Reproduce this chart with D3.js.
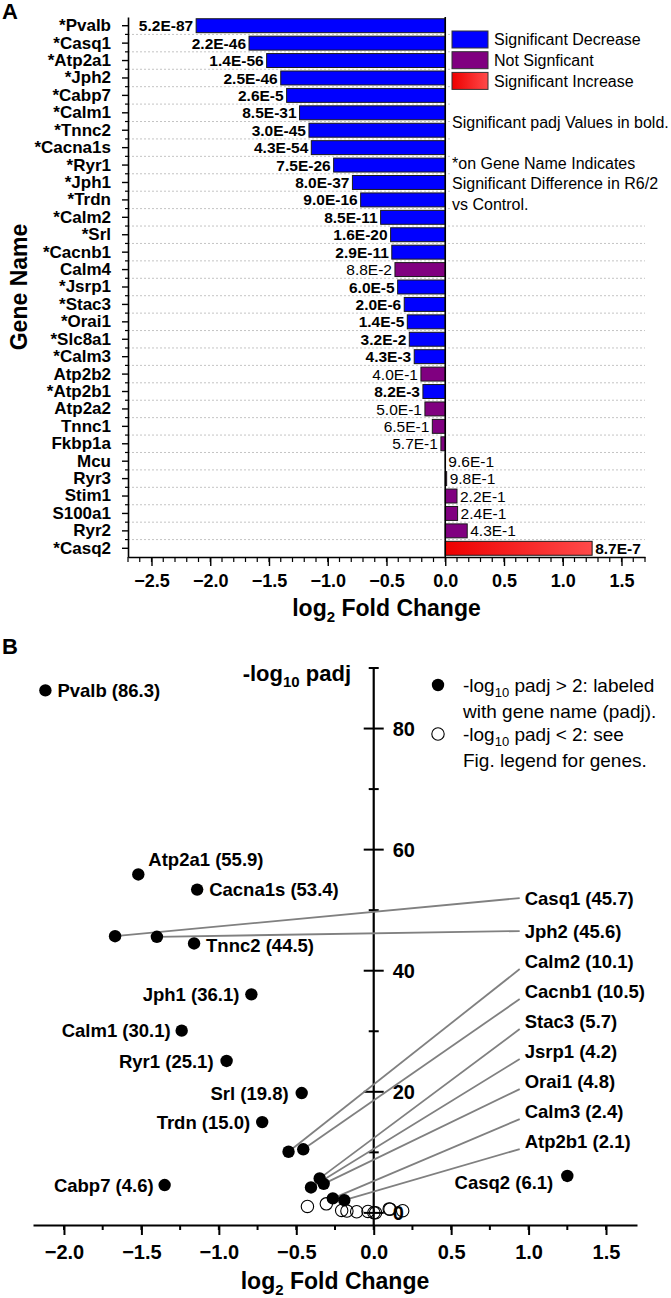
<!DOCTYPE html>
<html>
<head>
<meta charset="utf-8">
<script src="https://cdn.jsdelivr.net/npm/d3@7"></script>
<style>
  body { margin: 0; background: #fff; }
  svg { display: block; font-family: "Liberation Sans", Arial, sans-serif; }
</style>
</head>
<body>
<svg width="671" height="1298"></svg>
<script>
// gene list, top to bottom as in panel A
const genes = ['Pvalb', 'Casq1', 'Atp2a1', 'Jph2', 'Cabp7', 'Calm1', 'Tnnc2', 'Cacna1s', 'Ryr1', 'Jph1',
  'Trdn', 'Calm2', 'Srl', 'Cacnb1', 'Calm4', 'Jsrp1', 'Stac3', 'Orai1', 'Slc8a1', 'Calm3',
  'Atp2b2', 'Atp2b1', 'Atp2a2', 'Tnnc1', 'Fkbp1a', 'Mcu', 'Ryr3', 'Stim1', 'S100a1', 'Ryr2', 'Casq2'];
const log2FC = [-2.12, -1.67, -1.52, -1.40, -1.35, -1.24, -1.16, -1.14, -0.95, -0.79,
  -0.72, -0.55, -0.465, -0.455, -0.428, -0.405, -0.349, -0.323, -0.306, -0.264,
  -0.207, -0.19, -0.173, -0.11, -0.037, 0.001, 0.012, 0.10, 0.105, 0.187, 1.25];
const padjText = ['5.2E-87', '2.2E-46', '1.4E-56', '2.5E-46', '2.6E-5', '8.5E-31', '3.0E-45', '4.3E-54', '7.5E-26', '8.0E-37',
  '9.0E-16', '8.5E-11', '1.6E-20', '2.9E-11', '8.8E-2', '6.0E-5', '2.0E-6', '1.4E-5', '3.2E-2', '4.3E-3',
  '4.0E-1', '8.2E-3', '5.0E-1', '6.5E-1', '5.7E-1', '9.6E-1', '9.8E-1', '2.2E-1', '2.4E-1', '4.3E-1', '8.7E-7'];
const negLog10Padj = [86.3, 45.7, 55.9, 45.6, 4.6, 30.1, 44.5, 53.4, 25.1, 36.1,
  15.0, 10.1, 19.8, 10.5, 1.06, 4.2, 5.7, 4.8, 1.49, 2.4,
  0.40, 2.1, 0.30, 0.19, 0.24, 0.02, 0.01, 0.66, 0.62, 0.37, 6.1];

const legendA = ['Significant Decrease', 'Not Signficant', 'Significant Increase'];
const notesA = ['Significant padj Values in bold.', '*on Gene Name Indicates', 'Significant Difference in R6/2', 'vs Control.'];
const ticksAx = [-2.5, -2.0, -1.5, -1.0, -0.5, 0.0, 0.5, 1.0, 1.5];
const ticksBx = [-2.0, -1.5, -1.0, -0.5, 0.0, 0.5, 1.0, 1.5];
const ticksBy = [0, 20, 40, 60, 80];
const minorBy = [10, 30, 50, 70, 90];
// genes whose label in B sits in the right-hand column, connected with a line
const calloutGenes = ['Casq1', 'Jph2', 'Calm2', 'Cacnb1', 'Stac3', 'Jsrp1', 'Orai1', 'Calm3', 'Atp2b1'];

const data = genes.map((g, i) => ({
  gene: g, fc: log2FC[i], padjText: padjText[i], padj: +padjText[i], nl: negLog10Padj[i]
}));

const BLUE = '#0000ff', PURPLE = '#800080';
const fmt = d3.format('.1f');
const svg = d3.select('svg');

const defs = svg.append('defs');
const grad = defs.append('linearGradient').attr('id', 'redGrad');
grad.append('stop').attr('offset', '0%').attr('stop-color', '#ee0000');
grad.append('stop').attr('offset', '100%').attr('stop-color', '#ff4a4a');

const barColor = d => d.padj >= 0.05 ? PURPLE : (d.fc < 0 ? BLUE : 'url(#redGrad)');

// ---------------- panel A ----------------
const mA = {left: 128, right: 645, top: 17, bottom: 557};
const xA = d3.scaleLinear().domain([-2.7, 1.7]).range([mA.left, mA.right]);
const yA = d3.scaleBand().domain(genes).range([mA.top, mA.bottom]).paddingInner(0.2).paddingOuter(0.1);
const stepA = yA.step();

const gA = svg.append('g');

// dotted gridlines on row boundaries
gA.append('g').selectAll('line').data(genes.slice(1)).join('line')
  .attr('x1', mA.left).attr('x2', mA.right)
  .attr('y1', d => yA(d) - stepA * 0.1).attr('y2', d => yA(d) - stepA * 0.1)
  .attr('stroke', '#c4c4c4').attr('stroke-width', 1).attr('stroke-dasharray', '2,2');

gA.append('g').selectAll('rect').data(data).join('rect')
  .attr('x', d => xA(Math.min(0, d.fc)))
  .attr('y', d => yA(d.gene))
  .attr('width', d => Math.abs(xA(d.fc) - xA(0)))
  .attr('height', yA.bandwidth())
  .attr('fill', barColor)
  .attr('stroke', '#1a1a1a').attr('stroke-width', 1);

gA.append('g').selectAll('text').data(data).join('text')
  .attr('x', d => d.fc < 0 ? xA(d.fc) - 3 : xA(d.fc) + 3)
  .attr('y', d => yA(d.gene) + yA.bandwidth() / 2)
  .attr('dy', '0.36em')
  .attr('text-anchor', d => d.fc < 0 ? 'end' : 'start')
  .attr('font-size', 15.5)
  .attr('font-weight', d => d.padj < 0.05 ? 'bold' : 'normal')
  .attr('fill', '#000')
  .text(d => d.padjText);

// zero line
gA.append('line')
  .attr('x1', xA(0)).attr('x2', xA(0)).attr('y1', mA.top).attr('y2', mA.bottom)
  .attr('stroke', '#000').attr('stroke-width', 1.6);

// legend + notes on white
const lgA = svg.append('g');
lgA.append('rect').attr('x', 451).attr('y', 20).attr('width', 220).attr('height', 198).attr('fill', '#fff');
const swatchFill = [BLUE, PURPLE, 'url(#redGrad)'];
legendA.forEach((t, i) => {
  const y = 31 + i * 20.7;
  lgA.append('rect').attr('x', 452).attr('y', y).attr('width', 36).attr('height', 17)
    .attr('fill', swatchFill[i]).attr('stroke', '#333').attr('stroke-width', 1);
  lgA.append('text').attr('x', 494).attr('y', y + 8.5).attr('dy', '0.36em')
    .attr('font-size', 16).text(t);
});
const noteY = [122, 163, 183.5, 204];
notesA.forEach((t, i) => {
  lgA.append('text').attr('x', 452).attr('y', noteY[i]).attr('dy', '0.36em')
    .attr('font-size', 16).text(t);
});

// y axis A
const yAxisA = gA.append('g').attr('transform', `translate(${mA.left},0)`)
  .call(d3.axisLeft(yA).tickSize(6).tickSizeOuter(0).tickPadding(11)
    .tickFormat(g => (data.find(d => d.gene === g).padj < 0.05 ? '*' : '') + g));
yAxisA.select('.domain').attr('stroke-width', 1.6);
yAxisA.selectAll('.tick line').attr('stroke-width', 1.4);
yAxisA.selectAll('.tick text').attr('font-size', 17).attr('font-weight', 'bold')
  .attr('font-family', '"Liberation Sans", Arial, sans-serif').attr('fill', '#000');
gA.append('g').selectAll('line').data(genes.slice(1)).join('line')
  .attr('x1', mA.left - 3).attr('x2', mA.left)
  .attr('y1', d => yA(d) - stepA * 0.1).attr('y2', d => yA(d) - stepA * 0.1)
  .attr('stroke', '#000').attr('stroke-width', 1.2);

// x axis A
const xAxisA = gA.append('g').attr('transform', `translate(0,${mA.bottom})`)
  .call(d3.axisBottom(xA).tickValues(ticksAx).tickSize(9).tickSizeOuter(0).tickPadding(8).tickFormat(fmt));
xAxisA.select('.domain').attr('stroke-width', 1.6);
xAxisA.selectAll('.tick line').attr('stroke-width', 1.4);
xAxisA.selectAll('.tick text').attr('font-size', 18).attr('font-weight', 'bold')
  .attr('font-family', '"Liberation Sans", Arial, sans-serif').attr('fill', '#000');
gA.append('g').selectAll('line').data(d3.range(-27, 18).map(v => v / 10)).join('line')
  .attr('x1', d => xA(d)).attr('x2', d => xA(d))
  .attr('y1', mA.bottom).attr('y2', mA.bottom + 5)
  .attr('stroke', '#000').attr('stroke-width', 1.2);

const titleA = svg.append('text').attr('x', (mA.left + mA.right) / 2).attr('y', 616)
  .attr('text-anchor', 'middle').attr('font-size', 23).attr('font-weight', 'bold');
titleA.append('tspan').text('log');
titleA.append('tspan').text('2').attr('font-size', 15).attr('dy', 6);
titleA.append('tspan').text(' Fold Change').attr('dy', -6);

svg.append('text').attr('transform', `translate(27,${(mA.top + mA.bottom) / 2}) rotate(-90)`)
  .attr('text-anchor', 'middle').attr('font-size', 23).attr('font-weight', 'bold').text('Gene Name');

svg.append('text').attr('x', 2).attr('y', 19).attr('font-size', 22).attr('font-weight', 'bold').text('A');

// ---------------- panel B ----------------
const xB = d3.scaleLinear().domain([-2.2, 1.7]).range([33, 637]);
const yB = d3.scaleLinear().domain([-2, 90]).range([1225, 668]);
const gB = svg.append('g');

svg.append('text').attr('x', 2).attr('y', 654).attr('font-size', 22).attr('font-weight', 'bold').text('B');

// x axis B
const xAxisB = gB.append('g').attr('transform', `translate(0,${yB(-2)})`)
  .call(d3.axisBottom(xB).tickValues(ticksBx).tickSize(10).tickSizeOuter(0).tickPadding(10).tickFormat(fmt));
xAxisB.select('.domain').attr('stroke-width', 2.2);
xAxisB.selectAll('.tick line').attr('stroke-width', 2);
xAxisB.selectAll('.tick text').attr('font-size', 20).attr('font-weight', 'bold')
  .attr('font-family', '"Liberation Sans", Arial, sans-serif').attr('fill', '#000');
gB.append('g').selectAll('line').data(d3.range(-8, 7).map(v => v / 4)).join('line')
  .attr('x1', d => xB(d)).attr('x2', d => xB(d))
  .attr('y1', yB(-2)).attr('y2', yB(-2) + 5)
  .attr('stroke', '#000').attr('stroke-width', 2);

// y axis B (through x = 0, ticks crossing)
const yAxisB = gB.append('g').attr('transform', `translate(${xB(0)},0)`);
yAxisB.append('line').attr('y1', yB(-2)).attr('y2', yB(90))
  .attr('stroke', '#000').attr('stroke-width', 2.2);
yAxisB.selectAll('line.major').data(ticksBy).join('line').attr('class', 'major')
  .attr('x1', -10).attr('x2', 10).attr('y1', d => yB(d)).attr('y2', d => yB(d))
  .attr('stroke', '#000').attr('stroke-width', 2);
yAxisB.selectAll('line.minor').data(minorBy).join('line').attr('class', 'minor')
  .attr('x1', -5).attr('x2', 5).attr('y1', d => yB(d)).attr('y2', d => yB(d))
  .attr('stroke', '#000').attr('stroke-width', 2);
yAxisB.selectAll('text').data(ticksBy).join('text')
  .attr('x', 19).attr('y', d => yB(d)).attr('dy', '0.36em')
  .attr('font-size', 20).attr('font-weight', 'bold').text(d => d);

const titleB = svg.append('text').attr('x', 351).attr('y', 681)
  .attr('text-anchor', 'end').attr('font-size', 22).attr('font-weight', 'bold');
titleB.append('tspan').text('-log');
titleB.append('tspan').text('10').attr('font-size', 15).attr('dy', 6);
titleB.append('tspan').text(' padj').attr('dy', -6);

const titleBx = svg.append('text').attr('x', (xB.range()[0] + xB.range()[1]) / 2).attr('y', 1289)
  .attr('text-anchor', 'middle').attr('font-size', 23).attr('font-weight', 'bold');
titleBx.append('tspan').text('log');
titleBx.append('tspan').text('2').attr('font-size', 15).attr('dy', 6);
titleBx.append('tspan').text(' Fold Change').attr('dy', -6);

// labels beside the point: [anchor, dx, dy]
const nearLabel = {
  Pvalb: ['start', 12, 0], Atp2a1: ['start', 10, -15], Cacna1s: ['start', 12, 0], Tnnc2: ['start', 12, 2],
  Jph1: ['end', -12, 0], Calm1: ['end', -11, 0], Ryr1: ['end', -13, 0], Srl: ['end', -13, 0],
  Trdn: ['end', -12, 0], Cabp7: ['end', -11, 0], Casq2: ['end', -14, 6]
};
const byGene = new Map(data.map(d => [d.gene, d]));
const labelText = d => `${d.gene} (${fmt(d.nl)})`;

// callout column
const colX = xB(0.975);
const rowY = i => yB(52.0) + (i === 0 ? 0 : 33 + (i - 1) * 30);
const callouts = calloutGenes.map((g, i) => ({d: byGene.get(g), y: rowY(i), lineY: rowY(i) + (i < 2 ? 0 : 8)}));

gB.append('g').selectAll('line').data(callouts).join('line')
  .attr('x1', c => xB(c.d.fc)).attr('y1', c => yB(c.d.nl))
  .attr('x2', colX - 5).attr('y2', c => c.lineY)
  .attr('stroke', '#808080').attr('stroke-width', 1.8);

gB.append('g').selectAll('circle').data(data).join('circle')
  .attr('cx', d => xB(d.fc)).attr('cy', d => yB(d.nl)).attr('r', 6.2)
  .attr('fill', d => d.nl > 2 ? '#000' : 'none')
  .attr('stroke', '#000').attr('stroke-width', d => d.nl > 2 ? 0 : 1.1);

gB.append('g').selectAll('text').data(callouts).join('text')
  .attr('x', colX).attr('y', c => c.y).attr('dy', '0.36em')
  .attr('font-size', 18.5).attr('font-weight', 'bold').text(c => labelText(c.d));

gB.append('g').selectAll('text').data(data.filter(d => nearLabel[d.gene])).join('text')
  .attr('x', d => xB(d.fc) + nearLabel[d.gene][1])
  .attr('y', d => yB(d.nl) + nearLabel[d.gene][2])
  .attr('dy', '0.36em')
  .attr('text-anchor', d => nearLabel[d.gene][0])
  .attr('font-size', 18.5).attr('font-weight', 'bold').text(labelText);

// legend B
const lgB = svg.append('g').attr('font-size', 19);
lgB.append('circle').attr('cx', 438).attr('cy', 685).attr('r', 6.2).attr('fill', '#000');
lgB.append('circle').attr('cx', 438).attr('cy', 734).attr('r', 6.2).attr('fill', 'none').attr('stroke', '#000').attr('stroke-width', 1.1);
const l1 = lgB.append('text').attr('x', 463).attr('y', 685).attr('dy', '0.36em');
l1.append('tspan').text('-log');
l1.append('tspan').text('10').attr('font-size', 13).attr('dy', 5);
l1.append('tspan').text(' padj > 2: labeled').attr('dy', -5);
lgB.append('text').attr('x', 463).attr('y', 711).attr('dy', '0.36em').text('with gene name (padj).');
const l2 = lgB.append('text').attr('x', 463).attr('y', 734).attr('dy', '0.36em');
l2.append('tspan').text('-log');
l2.append('tspan').text('10').attr('font-size', 13).attr('dy', 5);
l2.append('tspan').text(' padj < 2: see').attr('dy', -5);
lgB.append('text').attr('x', 463).attr('y', 760).attr('dy', '0.36em').text('Fig. legend for genes.');
</script>
</body>
</html>
